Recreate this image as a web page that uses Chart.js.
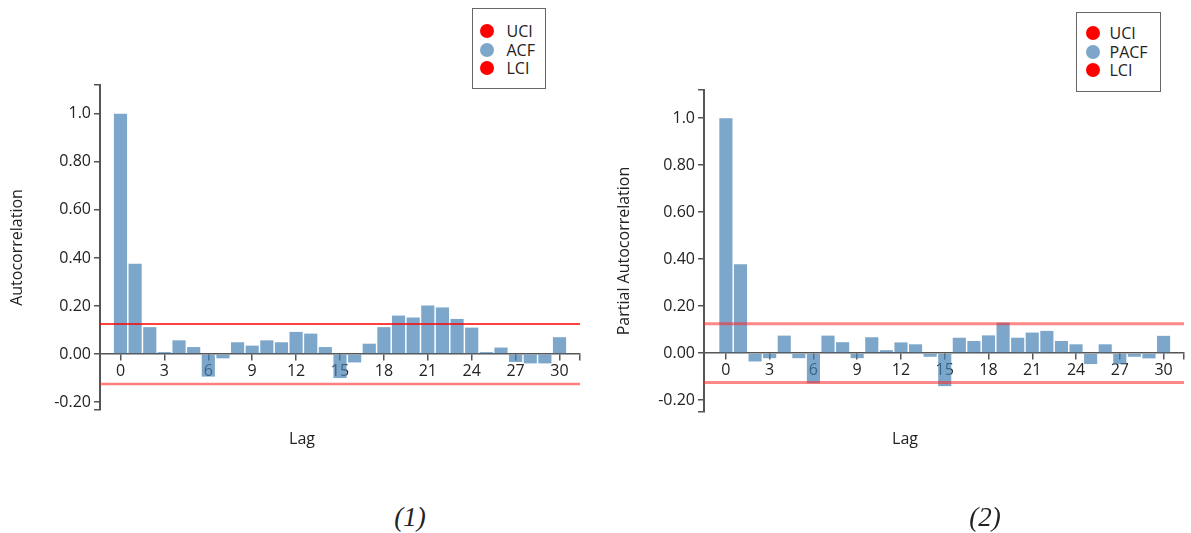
<!DOCTYPE html>
<html>
<head>
<meta charset="utf-8">
<script src="https://cdn.jsdelivr.net/npm/chart.js@4"></script>
<style>
  body { margin: 0; background: #fff; width: 1191px; height: 533px; position: relative; overflow: hidden; font-family: "Open Sans", sans-serif; color: #222; }
  .panel { position: absolute; top: 0; height: 460px; }
  .legend { position: absolute; border: 1.5px solid #666; background: #fff; box-sizing: border-box; font-size: 16px; }
  .legend .row { position: relative; height: 18.5px; line-height: 18.5px; }
  .legend .dot { position: absolute; width: 14px; height: 14px; border-radius: 50%; top: 2.25px; }
  .legend .txt { position: absolute; top: 0; }
  .xtitle { position: absolute; font-size: 16px; transform: translate(-50%, -50%); color: #222; }
  .caption { position: absolute; font-family: "Liberation Serif", serif; font-style: italic; font-size: 27px; transform: translate(-50%, -50%); color: #222; }
</style>
</head>
<body>
<div class="panel" style="left:0;width:595px"><canvas id="acfChart"></canvas></div>
<div class="panel" style="left:604px;width:587px"><canvas id="pacfChart"></canvas></div>
<div id="legend1" class="legend" style="left:472px;top:8px;width:74px;height:81px;padding-top:13px"></div>
<div id="legend2" class="legend" style="left:1076px;top:12px;width:85px;height:80px;padding-top:11px"></div>
<div class="xtitle" style="left:302px;top:438px">Lag</div>
<div class="xtitle" style="left:905px;top:438px">Lag</div>
<div class="caption" style="left:410px;top:517px">(1)</div>
<div class="caption" style="left:985px;top:517px">(2)</div>
<script>
// lags 0..30
const lags = [0, 1, 2, 3, 4, 5, 6, 7, 8, 9, 10, 11, 12, 13, 14, 15, 16, 17, 18, 19, 20, 21, 22, 23, 24, 25, 26, 27, 28, 29, 30];

const acfValues = [1.0, 0.376, 0.112, 0.008, 0.057, 0.029, -0.094, -0.018, 0.049, 0.035, 0.057,
  0.049, 0.092, 0.085, 0.029, -0.100, -0.035, 0.043, 0.112, 0.160, 0.152,
  0.202, 0.194, 0.146, 0.110, 0.008, 0.027, -0.033, -0.039, -0.039, 0.070];

const pacfValues = [1.0, 0.379, -0.035, -0.021, 0.075, -0.021, -0.128, 0.075, 0.047, -0.021, 0.068,
  0.013, 0.046, 0.038, -0.015, -0.140, 0.066, 0.052, 0.076, 0.130, 0.066,
  0.088, 0.095, 0.052, 0.038, -0.046, 0.038, -0.046, -0.015, -0.022, 0.074];

const acfBounds = [0.125, -0.125];   // UCI, LCI
const pacfBounds = [0.125, -0.125];

const xTickValues = [0, 3, 6, 9, 12, 15, 18, 21, 24, 27, 30];
const yTickValues = [-0.2, 0, 0.2, 0.4, 0.6, 0.8, 1.0];
const yTickLabels = ['-0.20', '0.00', '0.20', '0.40', '0.60', '0.80', '1.0'];

const barColor = 'rgba(70, 130, 180, 0.7)';
const axisColor = '#555';
const textColor = '#222';

function buildLegend(id, seriesName, dotLeft, txtLeft) {
  const el = document.getElementById(id);
  const items = [['UCI', '#ff0000'], [seriesName, 'rgb(125,167,202)'], ['LCI', '#ff0000']];
  el.innerHTML = items.map(([t, c]) =>
    `<div class="row"><span class="dot" style="left:${dotLeft}px;background:${c}"></span>` +
    `<span class="txt" style="left:${txtLeft}px">${t}</span></div>`
  ).join('');
}

function makeChart(canvasId, values, bounds, seriesName, yTitle, cfg) {
  const ctx = document.getElementById(canvasId).getContext('2d');
  return new Chart(ctx, {
    type: 'bar',
    data: {
      datasets: [
        {
          type: 'line', label: 'UCI', order: 0,
          data: [{ x: cfg.xMin, y: bounds[0] }, { x: cfg.xMax, y: bounds[0] }],
          borderColor: cfg.uciColor, borderWidth: cfg.uciWidth, pointRadius: 0
        },
        {
          type: 'line', label: 'LCI', order: 0,
          data: [{ x: cfg.xMin, y: bounds[1] }, { x: cfg.xMax, y: bounds[1] }],
          borderColor: cfg.lciColor, borderWidth: cfg.lciWidth, pointRadius: 0
        },
        {
          label: seriesName, order: 1,
          data: lags.map((l, i) => ({ x: l, y: values[i] })),
          backgroundColor: barColor,
          barPercentage: 0.9,
          categoryPercentage: 1.0
        }
      ]
    },
    options: {
      responsive: true,
      maintainAspectRatio: false,
      animation: false,
      layout: { padding: { top: cfg.padTop, bottom: cfg.padBottom, right: cfg.padRight, left: 0 } },
      plugins: { legend: { display: false }, tooltip: { enabled: false } },
      scales: {
        x: {
          type: 'linear',
          position: { y: 0 },
          min: cfg.xMin,
          max: cfg.xMax,
          offset: false,
          grid: { drawOnChartArea: false, drawTicks: true, tickLength: 6, color: axisColor, lineWidth: 1.5, offset: false },
          border: { display: true, color: axisColor, width: 1.5 },
          afterBuildTicks: (s) => {
            s.ticks = [cfg.xMin, ...xTickValues, cfg.xMax].map(v => ({ value: v }));
          },
          ticks: {
            autoSkip: false, maxRotation: 0, padding: 2,
            color: textColor, font: { family: 'Open Sans', size: 16 },
            callback: (v) => xTickValues.includes(v) ? String(v) : ''
          }
        },
        y: {
          min: cfg.yMin,
          max: cfg.yMax,
          afterFit: (s) => { s.width = 100; },
          grid: { drawOnChartArea: false, drawTicks: true, tickLength: 6, color: axisColor, lineWidth: 1.5 },
          border: { display: true, color: axisColor, width: 2 },
          afterBuildTicks: (s) => {
            s.ticks = [cfg.yMin, ...yTickValues, cfg.yMax].map(v => ({ value: v }));
          },
          ticks: {
            autoSkip: false, padding: 3,
            color: textColor, font: { family: 'Open Sans', size: 16 },
            callback: (v) => {
              const k = yTickValues.findIndex(t => Math.abs(t - v) < 1e-9);
              return k >= 0 ? yTickLabels[k] : '';
            }
          },
          title: {
            display: true, text: yTitle, color: textColor,
            font: { family: 'Open Sans', size: 16 },
            padding: { top: cfg.titlePad, bottom: 0 }
          }
        }
      }
    }
  });
}

makeChart('acfChart', acfValues, acfBounds, 'ACF', 'Autocorrelation', {
  xMin: -1.4, xMax: 31.4, yMin: -0.233, yMax: 1.12,
  padTop: 85, padBottom: 50, padRight: 15, titlePad: 8,
  uciColor: '#ff0000', uciWidth: 1.5, lciColor: 'rgba(255,40,40,0.6)', lciWidth: 2.5
});

makeChart('pacfChart', pacfValues, pacfBounds, 'PACF', 'Partial Autocorrelation', {
  xMin: -1.5, xMax: 31.4, yMin: -0.25, yMax: 1.12,
  padTop: 90, padBottom: 48, padRight: 7, titlePad: 11,
  uciColor: 'rgba(255,40,40,0.55)', uciWidth: 3, lciColor: 'rgba(255,40,40,0.55)', lciWidth: 3
});

buildLegend('legend1', 'ACF', 6.5, 33.5);
buildLegend('legend2', 'PACF', 8.5, 32.5);
</script>
</body>
</html>
